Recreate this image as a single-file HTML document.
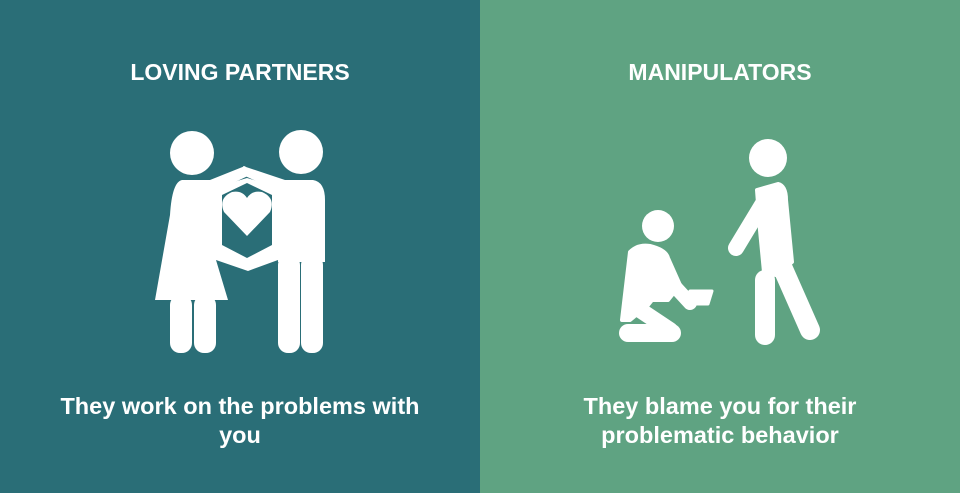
<!DOCTYPE html>
<html><head><style>
body{margin:0;width:960px;height:493px;overflow:hidden;font-family:"Liberation Sans",Arial,sans-serif;}
.p{position:absolute;top:0;height:493px;width:480px;color:#fff;font-weight:bold;text-align:center}
.t{position:absolute;top:59px;left:0;width:100%;font-size:23px}
.b{position:absolute;top:392px;left:0;width:100%;font-size:23.5px;line-height:29px}
</style></head><body>
<div class="p" style="left:0;background:#2a6e77">
<div class="t">LOVING PARTNERS</div>
<svg style="position:absolute;left:0;top:0" width="480" height="493">
<g fill="#fff">
<circle cx="192" cy="153" r="22"/>
<circle cx="301" cy="152" r="22"/>
<path d="M182 180 L210 180 L245 166 L250 175 L216 191 L216 260 L228 300 L155 300 L170 215 Q172 182 182 180Z"/>
<rect x="170" y="295" width="22" height="58" rx="10"/>
<rect x="194" y="295" width="22" height="58" rx="10"/>
<path d="M243 166 L285 180 L313 180 Q325 182 325 200 L325 262 L278 262 L278 191 L245 176Z"/>
<rect x="278" y="255" width="22" height="98" rx="10"/>
<rect x="301" y="255" width="22" height="98" rx="10"/>
<path d="M214 188 L247 178 L280 188 L280 252 L247 267 L214 252Z"/>
<path d="M222 195 L247 183 L272 195 L272 245 L247 258 L222 245Z" fill="#2a6e77"/>
<path d="M216 252 L248 264 L278 252 L278 260 L248 271 L216 260Z"/>
<path d="M247 236 L224 212 Q218 198 232 192 Q242 190 247 198 Q252 190 262 192 Q276 198 270 212Z"/>
</g></svg>
<div class="b">They work on the problems with<br>you</div>
</div>
<div class="p" style="left:480px;background:#5fa382">
<div class="t">MANIPULATORS</div>
<svg style="position:absolute;left:0;top:0" width="480" height="493">
<g fill="#fff" stroke="#fff" stroke-linecap="round" stroke-linejoin="round">
<circle cx="288" cy="158" r="19" stroke="none"/>
<path d="M277 190 L298 184 Q306 186 306 200 L312 262 L296 275 L284 272 L280 230Z" stroke-width="4"/>
<line x1="282" y1="205" x2="256" y2="248" stroke-width="16"/>
<line x1="300" y1="262" x2="330" y2="330" stroke-width="20"/>
<line x1="285" y1="280" x2="285" y2="335" stroke-width="20"/>
<circle cx="178" cy="226" r="16" stroke="none"/>
<path d="M150 252 Q158 244 170 246 Q186 250 188 258 L200 285 L188 300 L172 300 L168 305 L150 320 L142 320Z" stroke-width="4"/>
<line x1="175" y1="265" x2="210" y2="303" stroke-width="14"/>
<line x1="148" y1="333" x2="192" y2="333" stroke-width="18"/>
<line x1="160" y1="310" x2="190" y2="330" stroke-width="16"/>
<path d="M210 291 L232 291 L228 304 L214 304Z" stroke-width="3"/>
</g></svg>
<div class="b">They blame you for their<br>problematic behavior</div>
</div>
</body></html>
